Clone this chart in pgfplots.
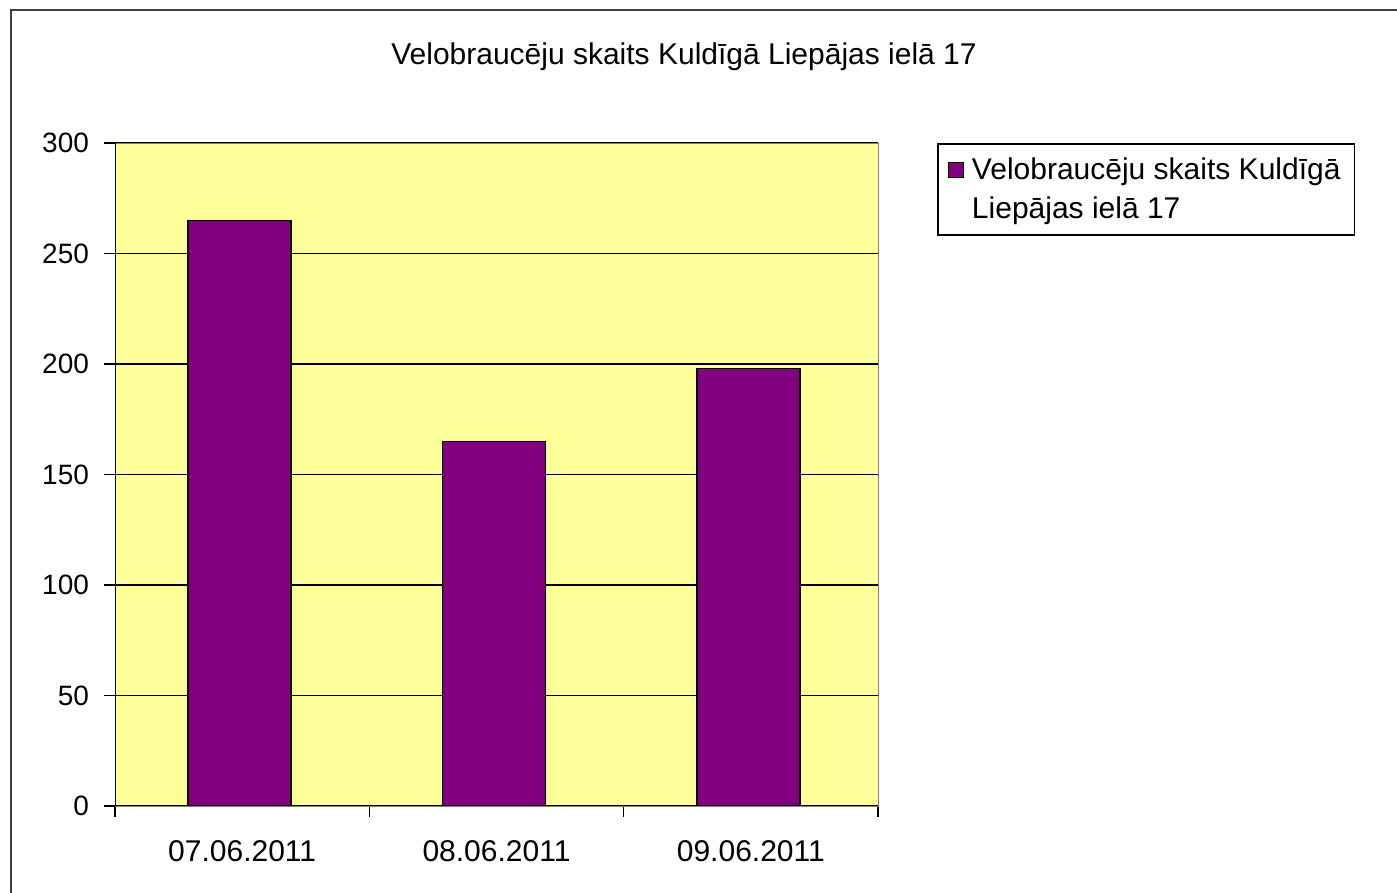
\documentclass[border=0pt]{standalone}
\usepackage{pgfplots}
\pgfplotsset{compat=1.18}
\usepackage{fontspec}
\setmainfont{Liberation Sans}
\definecolor{barc}{HTML}{800080}
\definecolor{bgc}{HTML}{FFFF99}
\begin{document}
\begin{tikzpicture}[font=\fontsize{14pt}{17pt}\selectfont]
\path[use as bounding box] (0,0) rectangle (698.5pt,446.5pt);
\draw[line width=1pt, black!75] (5.5pt,0) -- (5.5pt,441.5pt) -- (698.5pt,441.5pt);
\node[font=\fontsize{15pt}{18pt}\selectfont] at (342pt,418pt) {Velobraucēju skaits Kuldīgā Liepājas ielā 17};
\begin{axis}[
  at={(57.5pt,43.5pt)}, anchor=south west,
  scale only axis, width=381.5pt, height=331.5pt,
  xmin=-0.5, xmax=2.5, ymin=0, ymax=300,
  ytick={0,50,...,300},
  xtick={-0.5,0.5,1.5,2.5},
  x tick label as interval,
  xticklabels={07.06.2011,08.06.2011,09.06.2011,},
  major tick length=5.5pt,
  tick style={black, line width=0.8pt},
  tick align=outside,
  xtick pos=bottom, ytick pos=left,
  ymajorgrids, grid style={black, line width=0.8pt},
  axis line style={gray},
  axis background/.style={fill=bgc},
  /pgf/number format/assume math mode=true,
  ticklabel style={font=\fontsize{14pt}{17pt}\selectfont},
  xticklabel style={yshift=-8pt, font=\fontsize{15pt}{18pt}\selectfont},
  yticklabel style={xshift=-4pt},
  legend style={at={(axis description cs:1.0773,1)}, anchor=north west,
    draw=black, line width=0.8pt, font=\fontsize{15pt}{18pt}\selectfont,
    inner xsep=5pt, inner ysep=5pt, row sep=3pt, column sep=2pt},
  legend cell align=left,
]
\addplot[ybar, bar width=51.5pt, bar shift=-1.2pt, fill=barc, draw=black, line width=0.8pt,
  legend image code/.code={\draw[fill=barc,draw=black,line width=0.6pt] (0pt,-3.75pt) rectangle (7.5pt,3.75pt);}]
  coordinates {(0,265) (1,165) (2,198)};
\addlegendentry{Velobraucēju skaits Kuldīgā}
\addlegendimage{empty legend}
\addlegendentry{Liepājas ielā 17}
\draw[black, line width=0.8pt] (rel axis cs:0,1) -- (rel axis cs:0,0) -- (rel axis cs:1,0);
\end{axis}
\end{tikzpicture}
\end{document}
